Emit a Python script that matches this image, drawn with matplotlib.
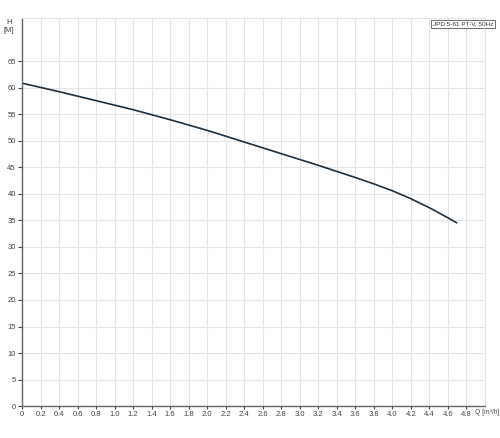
import numpy as np
import matplotlib.pyplot as plt

plt.rcParams['font.family'] = ['Liberation Sans', 'DejaVu Sans']

# pump curve
q = [0.0, 0.4, 0.8, 1.2, 1.6, 2.0, 2.4, 2.8, 3.2, 3.6, 3.8, 4.0, 4.2, 4.4, 4.6, 4.7]
h = [60.9, 59.3, 57.6, 55.9, 54.0, 52.0, 49.8, 47.6, 45.4, 43.1, 41.9, 40.6, 39.1, 37.4, 35.5, 34.5]

x_ticks = np.round(np.arange(0, 4.81, 0.2), 1)
x_labels = ['0'] + ['%.1f' % v for v in x_ticks[1:]]
y_ticks = list(range(0, 70, 5))

fig = plt.figure(figsize=(5.0, 4.38), dpi=100)
ax = fig.add_axes([0.044, 0.073, 0.926, 0.886])

ax.plot(q, h, color='#1e2f3e', lw=1.2, solid_capstyle='butt', solid_joinstyle='round')

ax.set_xlim(0, 5.0)
ax.set_ylim(0, 73.2)
ax.set_xticks(x_ticks)
ax.set_xticklabels(x_labels)
ax.set_yticks(y_ticks)
ax.set_yticklabels([str(v) for v in y_ticks])

ax.grid(True, color='#e4e4e4', lw=0.8)
ax.set_axisbelow(True)
for s in ['top', 'right']:
    ax.spines[s].set_color('#e4e4e4')
    ax.spines[s].set_linewidth(0.8)
for s in ['left', 'bottom']:
    ax.spines[s].set_color('#666666')
    ax.spines[s].set_linewidth(1.0)

ax.tick_params(axis='both', labelsize=5.5, colors='#444444', length=3, width=0.8, pad=1.5)
ax.tick_params(axis='x', length=2)

fig.text(9 / 500, 1 - 22 / 438, 'H', fontsize=5.5, color='#444444', ha='center', va='center')
fig.text(9 / 500, 1 - 30 / 438, '[M]', fontsize=5.5, color='#444444', ha='center', va='center')
fig.text(475 / 500, 1 - 412 / 438, 'Q [m³/h]', fontsize=4.8, color='#444444', ha='left', va='center')

fig.text(433 / 500, 1 - 24 / 438, 'JPD 5-61 PT-V, 50Hz', fontsize=4.6, color='#333333',
         ha='left', va='center',
         bbox=dict(boxstyle='square,pad=0.25', fc='white', ec='#555555', lw=0.6))

fig.savefig('out.png', dpi=100)
